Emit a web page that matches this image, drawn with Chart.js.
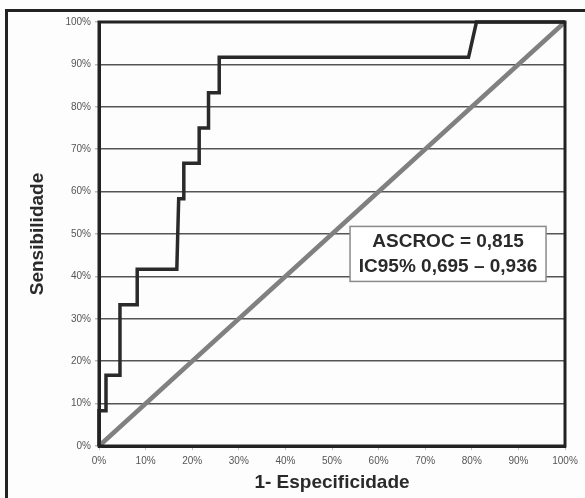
<!DOCTYPE html>
<html>
<head>
<meta charset="utf-8">
<script src="https://cdn.jsdelivr.net/npm/chart.js@4/dist/chart.umd.min.js"></script>
<style>
html,body{margin:0;padding:0;background:#fdfdfd;}
#wrap{width:585px;height:498px;position:relative;}
</style>
</head>
<body>
<div id="wrap"><canvas id="c" width="585" height="498"></canvas></div>
<script>
// ROC curve (1 - specificity, sensitivity)
const fpr = [0, 0, 0.015, 0.015, 0.045, 0.045, 0.082, 0.082, 0.167, 0.171, 0.182, 0.182, 0.215, 0.215, 0.235, 0.235, 0.258, 0.258, 0.793, 0.81, 1];
const tpr = [0, 0.083, 0.083, 0.167, 0.167, 0.333, 0.333, 0.417, 0.417, 0.583, 0.583, 0.667, 0.667, 0.75, 0.75, 0.833, 0.833, 0.917, 0.917, 1, 1];
// reference diagonal
const diagX = [0, 1];
const diagY = [0, 1];
const tickValues = [0, 0.1, 0.2, 0.3, 0.4, 0.5, 0.6, 0.7, 0.8, 0.9, 1];
const tickLabels = ['0%', '10%', '20%', '30%', '40%', '50%', '60%', '70%', '80%', '90%', '100%'];
const annotationLines = ['ASCROC = 0,815', 'IC95% 0,695 \u2013 0,936'];
const annotationCenter = [0.749, 0.453];

const rocPoints = fpr.map((x, i) => ({x: x, y: tpr[i]}));
const diagPoints = diagX.map((x, i) => ({x: x, y: diagY[i]}));

function tickLabel(v) {
  for (let i = 0; i < tickValues.length; i++) {
    if (Math.abs(tickValues[i] - v) < 1e-6) return tickLabels[i];
  }
  return '';
}

const framePlugin = {
  id: 'frame',
  beforeDraw(chart) {
    const ctx = chart.ctx;
    ctx.save();
    ctx.fillStyle = '#fdfdfd';
    ctx.fillRect(0, 0, chart.width, chart.height);
    ctx.strokeStyle = '#222';
    ctx.lineWidth = 3;
    ctx.beginPath();
    ctx.moveTo(6.5, 510);
    ctx.lineTo(6.5, 10.5);
    ctx.lineTo(600, 10.5);
    ctx.stroke();
    ctx.restore();
  },
  afterDatasetsDraw(chart) {
    const ctx = chart.ctx;
    const a = chart.chartArea;
    ctx.save();
    ctx.strokeStyle = '#222';
    ctx.lineWidth = 3;
    ctx.strokeRect(a.left, a.top, a.right - a.left, a.bottom - a.top);
    // annotation box
    const xs = chart.scales.x, ys = chart.scales.y;
    const cx = xs.getPixelForValue(annotationCenter[0]);
    const cy = ys.getPixelForValue(annotationCenter[1]);
    const w = 196, h = 55;
    ctx.fillStyle = '#ffffff';
    ctx.fillRect(cx - w / 2, cy - h / 2, w, h);
    ctx.strokeStyle = '#8a8a8a';
    ctx.lineWidth = 1.5;
    ctx.strokeRect(cx - w / 2, cy - h / 2, w, h);
    ctx.fillStyle = '#2a2a2a';
    ctx.font = 'bold 19px "Liberation Sans", Arial, sans-serif';
    ctx.textAlign = 'center';
    ctx.textBaseline = 'middle';
    ctx.fillText(annotationLines[0], cx, cy - 12.5);
    ctx.fillText(annotationLines[1], cx, cy + 12.5);
    ctx.restore();
  }
};

new Chart(document.getElementById('c'), {
  type: 'scatter',
  data: {
    datasets: [
      {
        label: 'ROC',
        data: rocPoints,
        showLine: true,
        borderColor: '#2a2a2a',
        borderWidth: 3.5,
        pointRadius: 0,
        tension: 0,
        clip: 6,
        order: 0
      },
      {
        label: 'Diagonal',
        data: diagPoints,
        showLine: true,
        borderColor: '#808080',
        borderWidth: 4.5,
        pointRadius: 0,
        clip: 6,
        order: 1
      }
    ]
  },
  options: {
    responsive: false,
    animation: false,
    devicePixelRatio: 1,
    layout: { padding: { left: 22, top: 22, right: 20, bottom: 0 } },
    plugins: {
      legend: { display: false },
      tooltip: { enabled: false }
    },
    scales: {
      x: {
        type: 'linear',
        min: 0, max: 1,
        afterBuildTicks(scale) { scale.ticks = tickValues.map(v => ({value: v})); },
        afterFit(scale) { scale.height = 52; },
        ticks: {
          callback: tickLabel,
          color: '#555',
          font: { family: '"Liberation Sans", Arial, sans-serif', size: 10 },
          padding: 5,
          maxRotation: 0
        },
        grid: { drawOnChartArea: false, tickColor: '#bbb', tickLength: 4 },
        border: { display: true, color: '#222', width: 3 },
        title: {
          display: true,
          text: '1- Especificidade',
          color: '#2a2a2a',
          font: { family: '"Liberation Sans", Arial, sans-serif', size: 19, weight: 'bold' },
          padding: { top: 4, bottom: 4 }
        }
      },
      y: {
        type: 'linear',
        min: 0, max: 1,
        afterBuildTicks(scale) { scale.ticks = tickValues.map(v => ({value: v})); },
        afterFit(scale) { scale.width = 77; },
        ticks: {
          callback: tickLabel,
          color: '#555',
          font: { family: '"Liberation Sans", Arial, sans-serif', size: 10 },
          padding: 4
        },
        grid: { color: '#555', lineWidth: 1.5, tickColor: '#bbb', tickLength: 4 },
        border: { display: true, color: '#222', width: 3 },
        title: {
          display: true,
          text: 'Sensibilidade',
          color: '#2a2a2a',
          font: { family: '"Liberation Sans", Arial, sans-serif', size: 19, weight: 'bold' },
          padding: { top: 4, bottom: 4 }
        }
      }
    }
  },
  plugins: [framePlugin]
});
</script>
</body>
</html>
